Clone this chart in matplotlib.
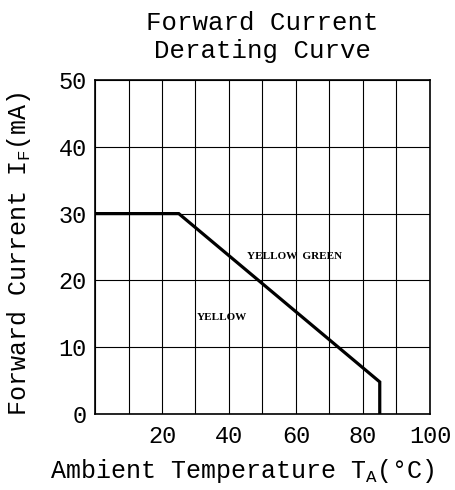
import matplotlib.pyplot as plt

# derating curve
temp_c = [0, 25, 85, 85]
current_ma = [30, 30, 4.8, 0]

x_ticks = [20, 40, 60, 80, 100]
y_ticks = [0, 10, 20, 30, 40, 50]
grid_x = list(range(0, 101, 10))

region_labels = ['YELLOW  GREEN', 'YELLOW']
region_x = [45.5, 30.3]
region_y = [23.6, 14.4]

mono = 'Liberation Mono'
plt.rcParams['mathtext.fontset'] = 'custom'
plt.rcParams['mathtext.rm'] = mono

fig = plt.figure(figsize=(4.56, 4.90), dpi=100)
ax = fig.add_axes([95 / 456, 1 - 414 / 490, 335 / 456, 334 / 490])

for gx in grid_x:
    ax.axvline(gx, color='black', lw=0.8, zorder=1)
for gy in y_ticks:
    ax.axhline(gy, color='black', lw=0.8, zorder=1)

ax.plot(temp_c, current_ma, color='black', lw=2.3, solid_joinstyle='miter', zorder=3)

for lab, lx, ly in zip(region_labels, region_x, region_y):
    ax.text(lx, ly, lab, fontsize=8, fontweight='bold', family='Liberation Serif',
            va='center', ha='left')

ax.set_xlim(0, 100)
ax.set_ylim(0, 50)
ax.set_xticks(x_ticks)
ax.set_yticks(y_ticks)
ax.tick_params(length=0, labelsize=17)
ax.tick_params(axis='y', pad=6)
ax.tick_params(axis='x', pad=8)
for t in ax.get_xticklabels() + ax.get_yticklabels():
    t.set_family(mono)
for s in ax.spines.values():
    s.set_linewidth(1.2)

ax.set_xlabel(r'Ambient Temperature T$_\mathrm{A}$(°C)', family=mono, fontsize=18)
ax.set_ylabel(r'Forward Current I$_\mathrm{F}$(mA)', family=mono, fontsize=18)
ax.xaxis.set_label_coords(0.44, -0.13)
ax.yaxis.set_label_coords(-0.185, 0.48)

fig.text(262 / 456, 1 - 11 / 490, 'Forward Current\nDerating Curve', family=mono,
         fontsize=18.5, ha='center', va='top', linespacing=1.2)

fig.savefig('out.png', dpi=100)
